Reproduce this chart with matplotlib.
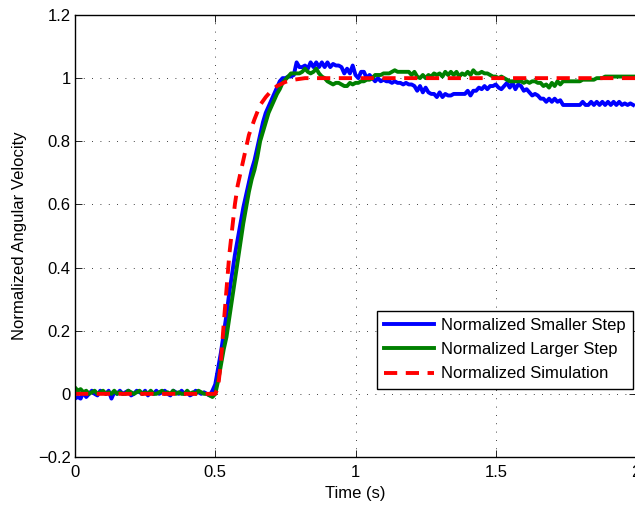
import numpy as np
import matplotlib
matplotlib.use('Agg')
import matplotlib.pyplot as plt
from matplotlib.ticker import FuncFormatter

plt.rcParams['font.family'] = ['Liberation Sans', 'DejaVu Sans']

# time grid, 10 ms steps
time = np.linspace(0, 1.99, 200)

# smaller step response (normalized)
smaller_step = [
    -0.015, -0.01, -0.015, 0.005, -0.01, 0.0, 0.01, 0.0, -0.005, 0.01,
    0.005, 0.0, 0.01, -0.015, 0.005, 0.0, 0.01, 0.0, 0.005, 0.01,
    -0.005, 0.0, 0.01, 0.005, 0.0, 0.01, -0.005, 0.005, 0.0, 0.01,
    0.0, 0.005, 0.01, 0.0, -0.005, 0.01, 0.005, 0.0, 0.01, 0.0,
    0.005, -0.005, 0.0, 0.01, 0.005, 0.0, 0.005, 0.0, -0.005, 0.01,
    0.03, 0.08, 0.13, 0.19, 0.25, 0.32, 0.38, 0.44, 0.49, 0.54,
    0.59, 0.63, 0.67, 0.71, 0.74, 0.78, 0.82, 0.86, 0.89, 0.91,
    0.93, 0.95, 0.97, 0.99, 1.0, 1.0, 1.005, 1.005, 1.01, 1.05,
    1.035, 1.035, 1.04, 1.03, 1.05, 1.035, 1.05, 1.035, 1.05, 1.035,
    1.05, 1.035, 1.045, 1.04, 1.04, 1.035, 1.015, 1.03, 1.015, 1.04,
    1.01, 1.0, 1.02, 1.02, 1.0, 1.01, 1.0, 0.99, 1.0, 0.99,
    0.995, 0.99, 0.99, 0.985, 0.99, 0.985, 0.985, 0.98, 0.985, 0.98,
    0.98, 0.975, 0.96, 0.975, 0.955, 0.97, 0.955, 0.95, 0.95, 0.94,
    0.955, 0.94, 0.95, 0.945, 0.945, 0.95, 0.95, 0.95, 0.95, 0.95,
    0.96, 0.945, 0.96, 0.96, 0.97, 0.965, 0.975, 0.965, 0.975, 0.975,
    0.98, 0.97, 0.965, 0.975, 0.985, 0.97, 0.985, 0.965, 0.98, 0.975,
    0.96, 0.965, 0.955, 0.945, 0.95, 0.945, 0.935, 0.935, 0.925, 0.935,
    0.925, 0.935, 0.925, 0.93, 0.915, 0.915, 0.915, 0.915, 0.915, 0.915,
    0.915, 0.925, 0.915, 0.915, 0.925, 0.915, 0.925, 0.915, 0.925, 0.915,
    0.925, 0.915, 0.925, 0.915, 0.925, 0.915, 0.92, 0.915, 0.92, 0.915,
]

# larger step response (normalized)
larger_step = [
    0.02, 0.01, 0.015, 0.005, 0.01, 0.0, 0.005, 0.01, 0.0, 0.005,
    0.01, 0.0, 0.005, 0.0, 0.01, 0.0, 0.005, 0.0, 0.0, 0.01,
    0.005, 0.0, 0.005, 0.01, 0.0, 0.005, 0.0, 0.01, 0.0, 0.0,
    0.005, 0.01, 0.0, 0.005, 0.0, 0.01, 0.0, 0.005, 0.0, 0.0,
    0.01, 0.0, 0.005, 0.0, 0.01, 0.005, 0.0, 0.0, -0.005, -0.01,
    0.0, 0.04, 0.09, 0.14, 0.18, 0.24, 0.30, 0.36, 0.42, 0.48,
    0.54, 0.59, 0.64, 0.68, 0.71, 0.75, 0.80, 0.83, 0.86, 0.89,
    0.91, 0.93, 0.95, 0.965, 0.985, 0.995, 1.005, 1.015, 1.015, 1.015,
    1.015, 1.02, 1.03, 1.02, 1.015, 1.02, 1.03, 1.015, 1.005, 1.0,
    0.99, 0.985, 0.98, 0.985, 0.985, 0.98, 0.975, 0.975, 0.985, 0.98,
    0.985, 0.985, 0.99, 0.99, 0.995, 0.995, 1.0, 1.01, 1.01, 1.01,
    1.015, 1.015, 1.015, 1.02, 1.025, 1.02, 1.02, 1.02, 1.02, 1.02,
    1.01, 1.02, 1.005, 1.0, 1.01, 1.0, 1.01, 1.005, 1.015, 1.01,
    1.015, 1.005, 1.02, 1.01, 1.02, 1.01, 1.02, 1.005, 1.015, 1.01,
    1.02, 1.01, 1.025, 1.015, 1.015, 1.02, 1.015, 1.015, 1.01, 1.005,
    1.005, 1.0, 1.005, 1.0, 0.995, 0.99, 0.99, 0.99, 0.99, 0.99,
    0.985, 0.99, 0.985, 0.99, 0.99, 0.985, 0.985, 0.975, 0.98, 0.97,
    0.985, 0.975, 0.99, 0.98, 0.99, 0.99, 0.99, 0.99, 0.99, 0.99,
    0.99, 0.995, 0.995, 0.995, 0.995, 0.995, 1.0, 1.0, 1.0, 1.005,
    1.005, 1.005, 1.005, 1.005, 1.005, 1.005, 1.005, 1.005, 1.005, 1.005,
]

# simulated response
sim_time = [0.0, 0.5, 0.51, 0.52, 0.53, 0.54, 0.55, 0.56, 0.57, 0.58, 0.59,
            0.60, 0.61, 0.62, 0.64, 0.66, 0.68, 0.70, 0.72, 0.75, 0.78, 0.82, 2.0]
sim_value = [0.0, 0.0, 0.02, 0.10, 0.22, 0.33, 0.44, 0.52, 0.60, 0.66, 0.70,
             0.74, 0.78, 0.82, 0.87, 0.915, 0.94, 0.96, 0.975, 0.988, 0.995, 1.0, 1.0]

x_ticks = [0, 0.5, 1, 1.5, 2]
y_ticks = [-0.2, 0, 0.2, 0.4, 0.6, 0.8, 1, 1.2]

fig = plt.figure(figsize=(6.35, 5.05), dpi=100)
ax = fig.add_axes([75 / 635, 48 / 505, 561 / 635, 442 / 505])

ax.plot(time, smaller_step, color=(0, 0, 1), lw=2.8, label='Normalized Smaller Step')
ax.plot(time, larger_step, color=(0, 0.5, 0), lw=2.8, label='Normalized Larger Step')
ax.plot(sim_time, sim_value, color=(1, 0, 0), lw=2.8, ls=(0, (3.4, 2.2)),
        label='Normalized Simulation')

ax.set_xlim(0, 2)
ax.set_ylim(-0.2, 1.2)
ax.set_xticks(x_ticks)
ax.set_yticks(y_ticks)
ax.xaxis.set_major_formatter(FuncFormatter(lambda v, p: '%g' % v))
ax.yaxis.set_major_formatter(FuncFormatter(lambda v, p: ('%g' % v).replace('-', '\u2212')))
ax.tick_params(direction='in', length=5, width=0.6, labelsize=12, top=True, right=True, pad=3)
ax.tick_params(axis='x', pad=6)
ax.grid(True, color='black', linestyle=(0, (1, 9)), linewidth=0.6)
for s in ax.spines.values():
    s.set_linewidth(1.0)

ax.set_xlabel('Time (s)', fontsize=12, labelpad=4)
ax.set_ylabel('Normalized Angular Velocity', fontsize=12, labelpad=8)

leg = ax.legend(loc='lower right', bbox_to_anchor=(0.995, 0.154), fontsize=12,
                fancybox=False, edgecolor='black', framealpha=1, handlelength=3.0,
                borderpad=0.45, labelspacing=0.55, handletextpad=0.4, borderaxespad=0)
leg.get_frame().set_linewidth(1.0)

fig.savefig('out.png', dpi=100)
